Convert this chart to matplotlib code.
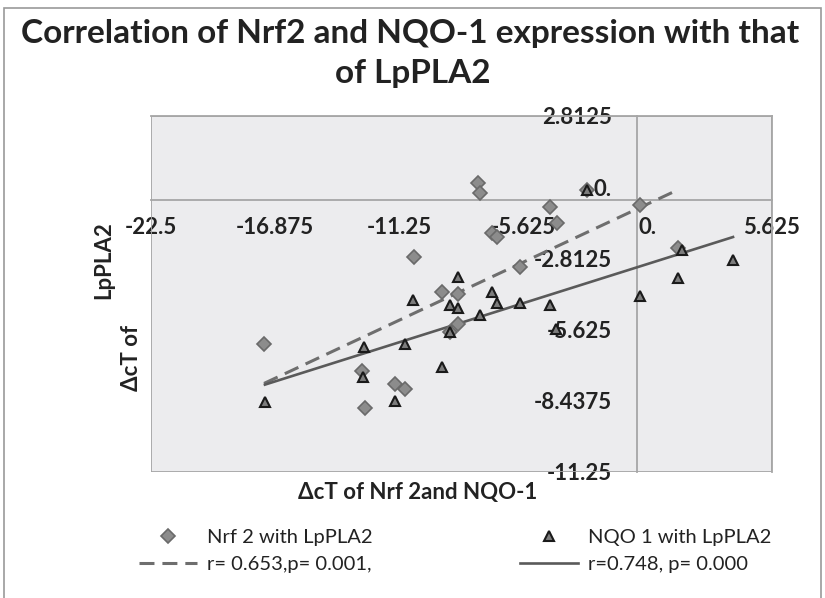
import numpy as np
import matplotlib.pyplot as plt
from matplotlib.lines import Line2D
from matplotlib.patches import Rectangle

plt.rcParams['font.family'] = ['Lato', 'DejaVu Sans']

# data
nrf2_x = [-7.69, -7.60, -2.75, -4.43, -4.11, -7.06, -6.83, -10.59, -5.79, -0.35,
          1.37, -9.32, -8.60, -8.60, -8.96, -17.38, -12.94, -11.45, -11.00, -12.81]
nrf2_y = [0.17, -0.23, -0.11, -0.78, -1.41, -1.81, -1.97, -2.76, -3.15, -0.70,
          -2.40, -4.14, -4.22, -5.40, -5.72, -6.19, -7.26, -7.77, -7.97, -8.72]
nqo1_x = [-2.75, 1.55, 3.86, 1.37, -0.35, -8.60, -10.63, -8.96, -8.60, -7.06, -6.83,
          -5.79, -4.43, -7.60, -8.96, -11.00, -12.85, -9.32, -12.90, -17.34, -11.45, -4.16]
nqo1_y = [-0.11, -2.48, -2.87, -3.59, -4.30, -3.55, -4.45, -4.65, -4.77, -4.14, -4.57,
          -4.57, -4.65, -5.05, -5.72, -6.19, -6.31, -7.10, -7.50, -8.48, -8.44, -5.60]

# linear trend lines as shown on the chart (slope, intercept)
nrf2_trend = (0.408, -0.66)
nqo1_trend = (0.275, -3.03)

x_ticks = [-22.5, -16.875, -11.25, -5.625, 0, 5.625]
x_labels = ['-22.5', '-16.875', '-11.25', '-5.625', '0.', '5.625']
y_ticks = [2.8125, 0, -2.8125, -5.625, -8.4375, -11.25]
y_labels = ['2.8125', '0.', '-2.8125', '-5.625', '-8.4375', '-11.25']
cross = -0.5

W, H = 825, 598
fig = plt.figure(figsize=(W / 100, H / 100), dpi=100)
fig.patches.append(Rectangle((4 / W, -0.05), (821 - 4) / W, 1.05 - 8 / H, transform=fig.transFigure,
                             fill=False, ec='#9a9a9a', lw=1.2))

ax = fig.add_axes([151 / W, 1 - 472 / H, (772 - 151) / W, (472 - 116) / H])
ax.set_facecolor('#ececee')
ax.set_xlim(-22.5, 5.625)
ax.set_ylim(-11.25, 2.8125)

for s in ['top', 'right']:
    ax.spines[s].set_color('#a6a6a6')
    ax.spines[s].set_linewidth(1.3)
for s in ['left', 'bottom']:
    ax.spines[s].set_position(('data', cross))
    ax.spines[s].set_color('#a6a6a6')
    ax.spines[s].set_linewidth(1.3)
ax.add_patch(Rectangle((0, 0), 1, 1, transform=ax.transAxes, fill=False,
                       ec='#a6a6a6', lw=1.3, zorder=5))

ax.set_xticks(x_ticks)
ax.set_xticklabels(x_labels)
ax.set_yticks(y_ticks)
ax.set_yticklabels(y_labels)
ax.tick_params(axis='x', length=0, pad=12, labelsize=16, labelcolor='#222222')
ax.tick_params(axis='y', length=0, pad=18, labelsize=16, labelcolor='#222222')
for lab in ax.get_xticklabels() + ax.get_yticklabels():
    lab.set_fontweight('bold')

# trend lines
xs1 = np.array([min(nrf2_x), max(nrf2_x)])
xs2 = np.array([min(nqo1_x), max(nqo1_x)])
ax.plot(xs1, nrf2_trend[0] * xs1 + nrf2_trend[1], color='#6e6e6e', lw=2.2,
        dashes=(4.9, 2.6), zorder=3)
ax.plot(xs2, nqo1_trend[0] * xs2 + nqo1_trend[1], color='#5a5a5a', lw=1.9, zorder=3)

ax.plot(nrf2_x, nrf2_y, 'D', ms=7.6, mfc='#8c8c8c', mec='#6a6a6a', mew=1.2, zorder=4)
ax.plot(nqo1_x, nqo1_y, '^', ms=7.5, mfc='#7d7d7d', mec='#1a1a1a', mew=1.5, zorder=4)

fig.text(410 / W, 1 - 33 / H, 'Correlation of Nrf2 and NQO-1 expression with that',
         ha='center', va='center', fontsize=24, fontweight='bold', color='#222222')
fig.text(413 / W, 1 - 73 / H, 'of LpPLA2',
         ha='center', va='center', fontsize=24, fontweight='bold', color='#222222')

fig.text(418 / W, 1 - 493 / H, 'ΔcT of Nrf 2and NQO-1', ha='center', va='center',
         fontsize=16, fontweight='bold', color='#222222')
fig.text(104 / W, 1 - 260 / H, 'LpPLA2', ha='center', va='center', rotation=90,
         fontsize=16, fontweight='bold', color='#222222')
fig.text(131 / W, 1 - 358 / H, 'ΔcT of', ha='center', va='center', rotation=90,
         fontsize=16, fontweight='bold', color='#222222')

handles = [
    Line2D([], [], ls='none', marker='D', ms=7.6, mfc='#8c8c8c', mec='#6a6a6a', mew=1.2),
    Line2D([], [], color='#6e6e6e', lw=2.2, dashes=(4.9, 2.6)),
    Line2D([], [], ls='none', marker='^', ms=7.5, mfc='#7d7d7d', mec='#1a1a1a', mew=1.5),
    Line2D([], [], color='#5a5a5a', lw=1.9),
]
labels = ['Nrf 2 with LpPLA2', 'r= 0.653,p= 0.001,', 'NQO 1 with LpPLA2', 'r=0.748, p= 0.000']
fig.legend(handles, labels, ncol=2, loc='center', bbox_to_anchor=(455 / W, 1 - 551 / H),
           frameon=False, fontsize=14.5, handlelength=2.9, handletextpad=0.5,
           columnspacing=7.3, labelspacing=0.45, labelcolor='#222222')

fig.savefig('out.png', dpi=100)
